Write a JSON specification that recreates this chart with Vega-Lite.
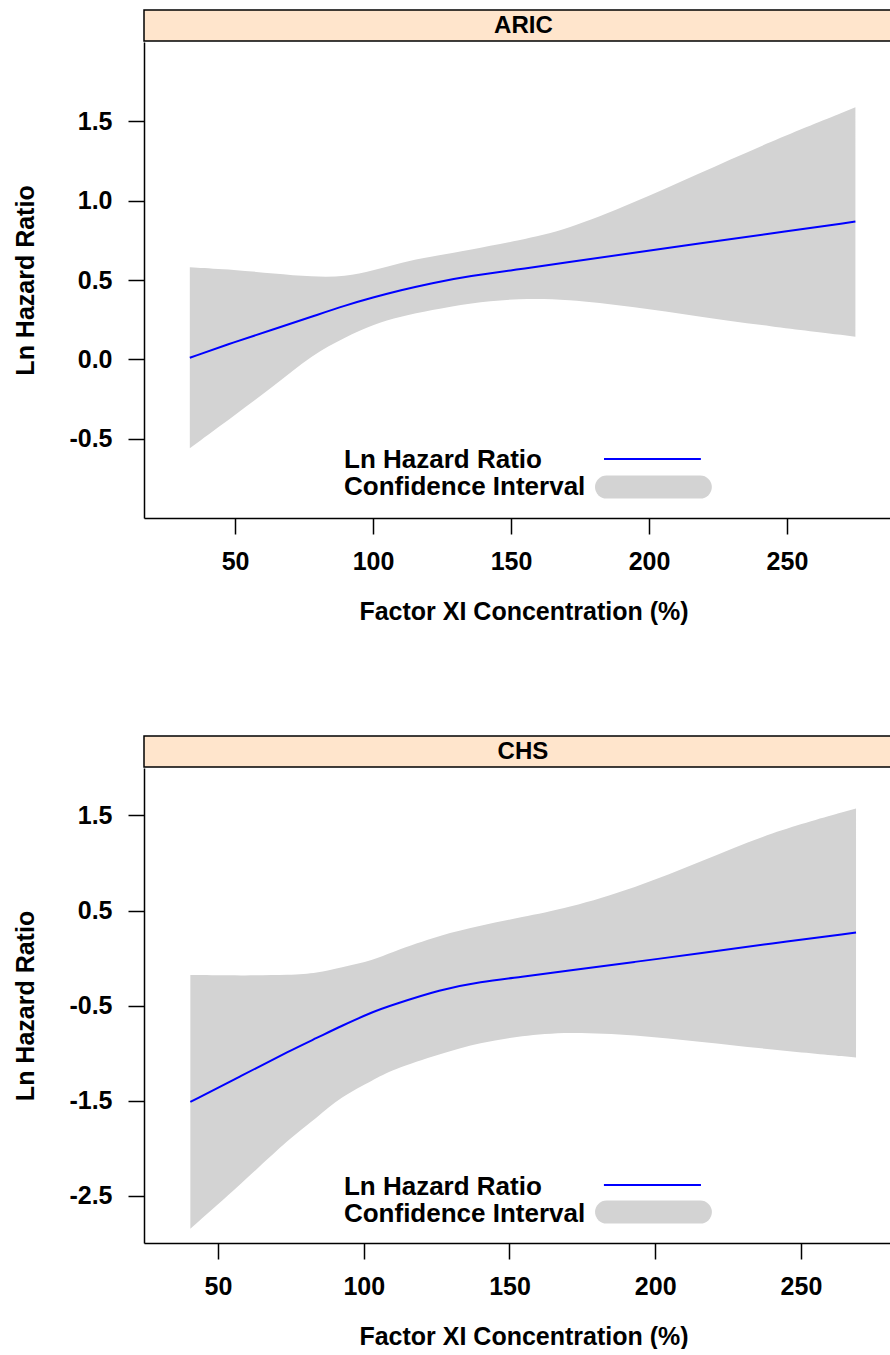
{
  "$schema": "https://vega.github.io/schema/vega-lite/v6.json",
  "padding": {"left": 13, "top": 9, "right": 0, "bottom": 0},
  "background": "white",
  "config": {
    "view": {"stroke": null},
    "font": "Liberation Sans",
    "axis": {
      "grid": false,
      "domainColor": "black", "domainWidth": 1.5,
      "tickColor": "black", "tickWidth": 1.5, "tickSize": 16,
      "labelFont": "Liberation Sans", "labelFontSize": 25, "labelFontWeight": "bold", "labelColor": "black", "labelPadding": 16,
      "titleFont": "Liberation Sans", "titleFontSize": 25, "titleFontWeight": "bold", "titleColor": "black"
    }
  },
  "datasets": {
    "aric": [
      {"x": 33.6, "est": 0.01, "lo": -0.56, "hi": 0.58},
      {"x": 50, "est": 0.11, "lo": -0.35, "hi": 0.565},
      {"x": 64, "est": 0.19, "lo": -0.17, "hi": 0.54},
      {"x": 78, "est": 0.27, "lo": 0.03, "hi": 0.52},
      {"x": 90, "est": 0.34, "lo": 0.14, "hi": 0.52},
      {"x": 100, "est": 0.39, "lo": 0.22, "hi": 0.56},
      {"x": 110, "est": 0.435, "lo": 0.27, "hi": 0.61},
      {"x": 121, "est": 0.48, "lo": 0.31, "hi": 0.647},
      {"x": 135, "est": 0.525, "lo": 0.355, "hi": 0.69},
      {"x": 153, "est": 0.568, "lo": 0.384, "hi": 0.75},
      {"x": 170, "est": 0.61, "lo": 0.38, "hi": 0.815},
      {"x": 194, "est": 0.67, "lo": 0.332, "hi": 0.983},
      {"x": 218, "est": 0.73, "lo": 0.27, "hi": 1.17},
      {"x": 243, "est": 0.79, "lo": 0.21, "hi": 1.365},
      {"x": 274.8, "est": 0.868, "lo": 0.143, "hi": 1.588}
    ],
    "chs": [
      {"x": 40.5, "est": -1.515, "lo": -2.85, "hi": -0.178},
      {"x": 58, "est": -1.24, "lo": -2.377, "hi": -0.185},
      {"x": 75, "est": -0.97, "lo": -1.885, "hi": -0.18},
      {"x": 84, "est": -0.84, "lo": -1.68, "hi": -0.16},
      {"x": 92, "est": -0.72, "lo": -1.463, "hi": -0.1},
      {"x": 103.6, "est": -0.56, "lo": -1.28, "hi": -0.02},
      {"x": 109.3, "est": -0.5, "lo": -1.181, "hi": 0.06},
      {"x": 126.5, "est": -0.33, "lo": -1.005, "hi": 0.244},
      {"x": 140, "est": -0.25, "lo": -0.89, "hi": 0.34},
      {"x": 154, "est": -0.2, "lo": -0.82, "hi": 0.43},
      {"x": 170, "est": -0.135, "lo": -0.776, "hi": 0.526},
      {"x": 193, "est": -0.04, "lo": -0.811, "hi": 0.737},
      {"x": 216, "est": 0.05, "lo": -0.882, "hi": 1.018},
      {"x": 239, "est": 0.15, "lo": -0.962, "hi": 1.317},
      {"x": 268.9, "est": 0.268, "lo": -1.047, "hi": 1.574}
    ]
  },
  "spacing": 111,
  "vconcat": [
    {
      "spacing": 0,
      "vconcat": [
        {
          "width": 747, "height": 31,
          "view": {"fill": "#FFE5CC", "stroke": "black", "strokeWidth": 1.5},
          "data": {"values": [{"panel": "ARIC"}]},
          "mark": {"type": "text", "fontSize": 24, "fontWeight": "bold", "font": "Liberation Sans", "baseline": "middle", "align": "center", "color": "black"},
          "encoding": {
            "text": {"field": "panel"},
            "x": {"datum": 154.5, "type": "quantitative", "scale": {"domain": [17, 287.7], "nice": false, "zero": false}, "axis": null}
          }
        },
        {
          "width": 747, "height": 476,
          "data": {"name": "aric"},
          "layer": [
            {
              "mark": {"type": "area", "color": "#D3D3D3", "interpolate": "basis"},
              "encoding": {
                "x": {"field": "x", "type": "quantitative", "scale": {"domain": [17, 287.7], "nice": false, "zero": false},
                  "axis": {"values": [50, 100, 150, 200, 250], "title": "Factor XI Concentration (%)", "titlePadding": 25, "labelPadding": 15, "titleX": 379.5}},
                "y": {"field": "lo", "type": "quantitative", "scale": {"domain": [-1, 2], "nice": false, "zero": false},
                  "axis": {"values": [-0.5, 0, 0.5, 1, 1.5], "labelExpr": "replace(format(datum.value, '.1f'), '\u2212', '-')", "title": "Ln Hazard Ratio", "titlePadding": 30}},
                "y2": {"field": "hi"}
              }
            },
            {
              "mark": {"type": "line", "color": "#0000FF", "strokeWidth": 2, "interpolate": "basis"},
              "encoding": {
                "x": {"field": "x", "type": "quantitative"},
                "y": {"field": "est", "type": "quantitative"}
              }
            },
            {
              "data": {"values": [{"label": "Ln Hazard Ratio"}]},
              "mark": {"type": "text", "fontSize": 26, "fontWeight": "bold", "font": "Liberation Sans", "align": "left", "baseline": "middle", "color": "black"},
              "encoding": {"text": {"field": "label"}, "x": {"datum": 89.5}, "y": {"datum": -0.635}}
            },
            {
              "data": {"values": [{"label": "Confidence Interval"}]},
              "mark": {"type": "text", "fontSize": 26, "fontWeight": "bold", "font": "Liberation Sans", "align": "left", "baseline": "middle", "color": "black"},
              "encoding": {"text": {"field": "label"}, "x": {"datum": 89.5}, "y": {"datum": -0.805}}
            },
            {
              "data": {"values": [{"key": "Ln Hazard Ratio"}]},
              "mark": {"type": "rule", "color": "#0000FF", "strokeWidth": 2},
              "encoding": {"x": {"datum": 183.7}, "x2": {"datum": 218.8}, "y": {"datum": -0.628}}
            },
            {
              "data": {"values": [{"key": "Confidence Interval"}]},
              "mark": {"type": "rule", "color": "#D3D3D3", "strokeWidth": 23, "strokeCap": "round"},
              "encoding": {"x": {"datum": 184.6}, "x2": {"datum": 218.6}, "y": {"datum": -0.805}}
            }
          ]
        }
      ]
    },
    {
      "spacing": 0,
      "vconcat": [
        {
          "width": 747, "height": 31,
          "view": {"fill": "#FFE5CC", "stroke": "black", "strokeWidth": 1.5},
          "data": {"values": [{"panel": "CHS"}]},
          "mark": {"type": "text", "fontSize": 24, "fontWeight": "bold", "font": "Liberation Sans", "baseline": "middle", "align": "center", "color": "black"},
          "encoding": {
            "text": {"field": "panel"},
            "x": {"datum": 154.6, "type": "quantitative", "scale": {"domain": [24.6, 280.9], "nice": false, "zero": false}, "axis": null}
          }
        },
        {
          "width": 747, "height": 475,
          "data": {"name": "chs"},
          "layer": [
            {
              "mark": {"type": "area", "color": "#D3D3D3", "interpolate": "basis"},
              "encoding": {
                "x": {"field": "x", "type": "quantitative", "scale": {"domain": [24.6, 280.9], "nice": false, "zero": false},
                  "axis": {"values": [50, 100, 150, 200, 250], "title": "Factor XI Concentration (%)", "titlePadding": 25, "labelPadding": 15, "titleX": 379.5}},
                "y": {"field": "lo", "type": "quantitative", "scale": {"domain": [-3, 2], "nice": false, "zero": false},
                  "axis": {"values": [-2.5, -1.5, -0.5, 0.5, 1.5], "labelExpr": "replace(format(datum.value, '.1f'), '\u2212', '-')", "title": "Ln Hazard Ratio", "titlePadding": 30}},
                "y2": {"field": "hi"}
              }
            },
            {
              "mark": {"type": "line", "color": "#0000FF", "strokeWidth": 2, "interpolate": "basis"},
              "encoding": {
                "x": {"field": "x", "type": "quantitative"},
                "y": {"field": "est", "type": "quantitative"}
              }
            },
            {
              "data": {"values": [{"label": "Ln Hazard Ratio"}]},
              "mark": {"type": "text", "fontSize": 26, "fontWeight": "bold", "font": "Liberation Sans", "align": "left", "baseline": "middle", "color": "black"},
              "encoding": {"text": {"field": "label"}, "x": {"datum": 93.2}, "y": {"datum": -2.415}}
            },
            {
              "data": {"values": [{"label": "Confidence Interval"}]},
              "mark": {"type": "text", "fontSize": 26, "fontWeight": "bold", "font": "Liberation Sans", "align": "left", "baseline": "middle", "color": "black"},
              "encoding": {"text": {"field": "label"}, "x": {"datum": 93.2}, "y": {"datum": -2.69}}
            },
            {
              "data": {"values": [{"key": "Ln Hazard Ratio"}]},
              "mark": {"type": "rule", "color": "#0000FF", "strokeWidth": 2},
              "encoding": {"x": {"datum": 182.4}, "x2": {"datum": 215.7}, "y": {"datum": -2.389}}
            },
            {
              "data": {"values": [{"key": "Confidence Interval"}]},
              "mark": {"type": "rule", "color": "#D3D3D3", "strokeWidth": 23, "strokeCap": "round"},
              "encoding": {"x": {"datum": 183.3}, "x2": {"datum": 215.5}, "y": {"datum": -2.674}}
            }
          ]
        }
      ]
    }
  ]
}
